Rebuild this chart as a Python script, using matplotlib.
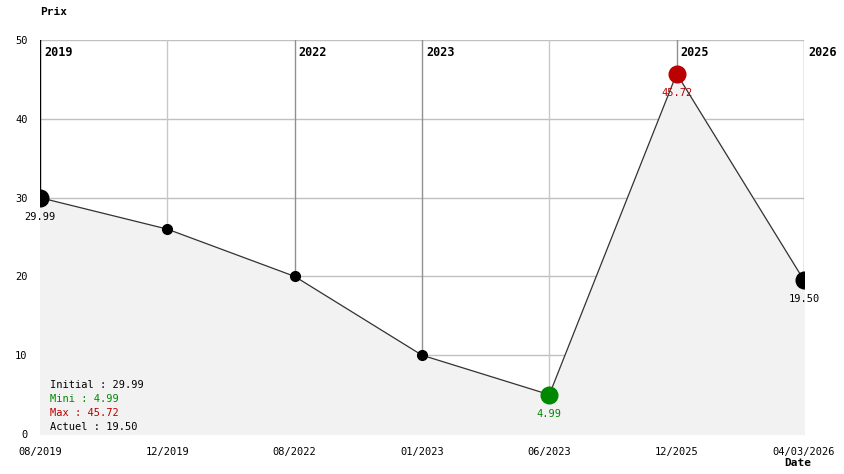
import matplotlib
matplotlib.use("Agg")
import matplotlib.pyplot as plt

dates = ["08/2019", "12/2019", "08/2022", "01/2023", "06/2023", "12/2025", "04/03/2026"]
prices = [29.99, 26.0, 20.0, 10.0, 4.99, 45.72, 19.50]
year_marks = {0: "2019", 2: "2022", 3: "2023", 5: "2025", 6: "2026"}
summary = [("Initial : 29.99", "black"), ("Mini : 4.99", "#008800"),
           ("Max : 45.72", "#bb0000"), ("Actuel : 19.50", "black")]

plt.rcParams['font.family'] = ['DejaVu Sans Mono']
W, H = 844, 474
fig = plt.figure(figsize=(W / 100, H / 100), dpi=100)
ax = fig.add_axes([40 / W, (H - 434) / H, (804 - 40) / W, (434 - 40) / H])
x = list(range(len(prices)))
ax.set_xlim(0, len(prices) - 1)
ax.set_ylim(0, 50)
for s in ax.spines.values():
    s.set_visible(False)

ax.fill_between(x, prices, 0, color="#f2f2f2", zorder=2)
for yv in [10, 20, 30, 40, 50]:
    ax.axhline(yv, color="#c0c0c0", lw=1, zorder=1)
for i in x:
    if i == 0:
        c = "black"
    elif i in year_marks:
        c = "#909090"
    else:
        c = "#c8c8c8"
    ax.axvline(i, color=c, lw=1, zorder=1)
    if i in year_marks:
        ax.annotate(year_marks[i], (i, 50), xytext=(3, -4), textcoords="offset points",
                    ha="left", va="top", fontsize=8.5, fontweight="bold", zorder=5)

ax.plot(x, prices, color="#333333", lw=0.9, zorder=3)
imin = prices.index(min(prices))
imax = prices.index(max(prices))
for i, p in enumerate(prices):
    if i == imin:
        col, ms = "#008800", 12
    elif i == imax:
        col, ms = "#bb0000", 12
    elif i in (0, len(prices) - 1):
        col, ms = "black", 12
    else:
        col, ms = "black", 7
    ax.plot(i, p, "o", color=col, ms=ms, zorder=4)
    if ms == 12:
        ax.annotate(f"{p:.2f}", (i, p), xytext=(0, -10), textcoords="offset points",
                    ha="center", va="top", fontsize=7.5, color=col, zorder=5)

for k, (t, c) in enumerate(summary):
    ax.annotate(t, (0, 0), xytext=(7, 35.3 - k * 10.1), textcoords="offset points",
                ha="left", va="center", fontsize=7.5, color=c, zorder=5)

ax.set_yticks([0, 10, 20, 30, 40, 50])
ax.set_yticklabels(["0", "10", "20", "30", "40", "50"], fontsize=7.5)
ax.set_xticks(x)
ax.set_xticklabels(dates, fontsize=7.5)
ax.tick_params(length=0, pad=9)
ax.tick_params(axis="x", pad=9)
fig.text(40 / W, 1 - 12 / H, "Prix", fontsize=8, fontweight="bold", ha="left", va="center")
fig.text(784 / W, 1 - 463 / H, "Date", fontsize=8, fontweight="bold", ha="left", va="center")
fig.savefig("out.png", dpi=100)
